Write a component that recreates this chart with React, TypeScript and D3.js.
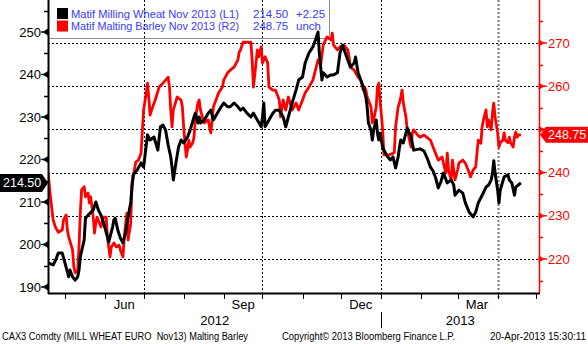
import React, { useEffect, useRef } from 'react';
import * as d3 from 'd3';

// Matif Milling Wheat Nov 2013 (left axis)
const WHEAT: [string, number][] = [
  ['2012-04-18', 195.7], ['2012-04-22', 195.2], ['2012-04-24', 196.4], ['2012-04-26', 198.0], ['2012-04-29', 198.0],
  ['2012-05-02', 194.7], ['2012-05-04', 192.4], ['2012-05-05', 194.0], ['2012-05-07', 192.4], ['2012-05-09', 191.6],
  ['2012-05-11', 192.4], ['2012-05-12', 194.0], ['2012-05-13', 197.1], ['2012-05-16', 201.1], ['2012-05-17', 206.2],
  ['2012-05-19', 206.9], ['2012-05-23', 208.1], ['2012-05-25', 210.0], ['2012-05-27', 208.1], ['2012-05-29', 206.9],
  ['2012-05-31', 205.1], ['2012-06-03', 201.8], ['2012-06-04', 200.6], ['2012-06-07', 204.1], ['2012-06-08', 205.8],
  ['2012-06-09', 206.2], ['2012-06-11', 203.4], ['2012-06-13', 201.5], ['2012-06-15', 200.4], ['2012-06-17', 202.7],
  ['2012-06-19', 206.5], ['2012-06-21', 209.8], ['2012-06-22', 213.5], ['2012-06-23', 216.4], ['2012-06-26', 217.5],
  ['2012-06-29', 219.2], ['2012-07-01', 218.2], ['2012-07-04', 225.8], ['2012-07-06', 224.6], ['2012-07-09', 225.3],
  ['2012-07-12', 222.2], ['2012-07-14', 227.7], ['2012-07-16', 228.1], ['2012-07-18', 226.9], ['2012-07-20', 223.4],
  ['2012-07-22', 220.6], ['2012-07-23', 218.2], ['2012-07-24', 215.2], ['2012-07-26', 219.2], ['2012-07-28', 222.9],
  ['2012-07-30', 224.6], ['2012-08-01', 223.9], ['2012-08-04', 225.3], ['2012-08-06', 226.9], ['2012-08-09', 230.0],
  ['2012-08-10', 230.9], ['2012-08-12', 228.6], ['2012-08-13', 230.0], ['2012-08-14', 228.6], ['2012-08-17', 229.3],
  ['2012-08-20', 230.9], ['2012-08-22', 231.6], ['2012-08-24', 229.3], ['2012-08-27', 230.9], ['2012-08-30', 232.4],
  ['2012-09-01', 233.3], ['2012-09-04', 232.4], ['2012-09-06', 232.4], ['2012-09-09', 233.3], ['2012-09-12', 232.4],
  ['2012-09-14', 231.6], ['2012-09-16', 232.1], ['2012-09-19', 230.9], ['2012-09-22', 230.0], ['2012-09-24', 230.9],
  ['2012-09-27', 229.3], ['2012-09-30', 227.7], ['2012-10-01', 230.0], ['2012-10-02', 233.3], ['2012-10-03', 227.7],
  ['2012-10-06', 229.3], ['2012-10-09', 230.9], ['2012-10-11', 231.6], ['2012-10-14', 231.6], ['2012-10-17', 230.0],
  ['2012-10-19', 227.7], ['2012-10-21', 230.0], ['2012-10-24', 233.3], ['2012-10-27', 236.4], ['2012-10-29', 238.7],
  ['2012-11-01', 239.4], ['2012-11-03', 242.7], ['2012-11-06', 245.1], ['2012-11-09', 246.5], ['2012-11-11', 248.1],
  ['2012-11-13', 250.0], ['2012-11-14', 245.1], ['2012-11-16', 238.7], ['2012-11-17', 240.4], ['2012-11-20', 239.4],
  ['2012-11-23', 239.9], ['2012-11-25', 239.9], ['2012-11-28', 240.4], ['2012-11-30', 245.1], ['2012-12-02', 246.9],
  ['2012-12-04', 245.1], ['2012-12-06', 243.4], ['2012-12-08', 241.8], ['2012-12-11', 242.7], ['2012-12-12', 244.1],
  ['2012-12-14', 240.4], ['2012-12-18', 237.1], ['2012-12-20', 234.7], ['2012-12-21', 232.4], ['2012-12-22', 228.6],
  ['2012-12-24', 226.9], ['2012-12-25', 224.6], ['2012-12-26', 226.9], ['2012-12-28', 229.3], ['2012-12-29', 226.2],
  ['2012-12-30', 224.6], ['2012-12-31', 226.2], ['2013-01-02', 222.9], ['2013-01-03', 222.2], ['2013-01-06', 220.6],
  ['2013-01-08', 219.9], ['2013-01-10', 220.6], ['2013-01-12', 218.0], ['2013-01-14', 220.6], ['2013-01-15', 222.9],
  ['2013-01-16', 224.6], ['2013-01-18', 223.9], ['2013-01-20', 226.2], ['2013-01-21', 227.4], ['2013-01-24', 225.3],
  ['2013-01-26', 222.2], ['2013-01-31', 222.5], ['2013-02-03', 222.0], ['2013-02-06', 219.9], ['2013-02-08', 218.2],
  ['2013-02-10', 217.3], ['2013-02-12', 215.7], ['2013-02-14', 213.3], ['2013-02-16', 214.7], ['2013-02-18', 216.8],
  ['2013-02-21', 214.5], ['2013-02-24', 215.2], ['2013-02-26', 214.0], ['2013-02-27', 211.6], ['2013-03-02', 212.8],
  ['2013-03-05', 212.1], ['2013-03-07', 209.8], ['2013-03-10', 207.6], ['2013-03-13', 206.5], ['2013-03-15', 207.6],
  ['2013-03-17', 209.8], ['2013-03-20', 211.6], ['2013-03-23', 213.5], ['2013-03-25', 214.0], ['2013-03-27', 215.2],
  ['2013-03-28', 216.8], ['2013-03-29', 219.7], ['2013-03-30', 216.8], ['2013-04-01', 212.8], ['2013-04-02', 209.8],
  ['2013-04-03', 212.8], ['2013-04-06', 215.9], ['2013-04-09', 216.4], ['2013-04-10', 215.2], ['2013-04-12', 214.5],
  ['2013-04-14', 211.6], ['2013-04-15', 213.5], ['2013-04-17', 214.0], ['2013-04-19', 214.5],
];

// Matif Malting Barley Nov 2013 (right axis)
const BARLEY: [string, number][] = [
  ['2012-04-18', 240.1], ['2012-04-20', 234.1], ['2012-04-22', 229.0], ['2012-04-24', 227.2], ['2012-04-26', 226.2],
  ['2012-04-29', 226.7], ['2012-04-30', 229.0], ['2012-05-02', 230.2], ['2012-05-03', 226.7], ['2012-05-04', 225.1],
  ['2012-05-07', 222.1], ['2012-05-08', 218.2], ['2012-05-09', 216.8], ['2012-05-11', 217.5], ['2012-05-12', 222.8],
  ['2012-05-13', 230.6], ['2012-05-14', 236.0], ['2012-05-16', 236.7], ['2012-05-17', 234.4], ['2012-05-19', 235.3],
  ['2012-05-20', 233.0], ['2012-05-21', 234.4], ['2012-05-23', 229.7], ['2012-05-24', 226.0], ['2012-05-25', 228.3],
  ['2012-05-26', 229.7], ['2012-05-29', 227.4], ['2012-05-31', 229.7], ['2012-06-02', 229.7], ['2012-06-03', 225.1],
  ['2012-06-05', 220.5], ['2012-06-06', 222.8], ['2012-06-08', 223.7], ['2012-06-10', 222.8], ['2012-06-12', 223.2],
  ['2012-06-13', 222.1], ['2012-06-15', 220.5], ['2012-06-16', 225.1], ['2012-06-18', 230.6], ['2012-06-19', 224.4],
  ['2012-06-21', 228.3], ['2012-06-22', 237.6], ['2012-06-25', 242.5], ['2012-06-27', 242.9], ['2012-06-29', 244.5],
  ['2012-07-01', 254.5], ['2012-07-03', 258.4], ['2012-07-04', 260.7], ['2012-07-05', 257.5], ['2012-07-06', 253.3],
  ['2012-07-08', 255.2], ['2012-07-10', 256.8], ['2012-07-13', 259.8], ['2012-07-16', 260.7], ['2012-07-18', 261.4],
  ['2012-07-20', 262.1], ['2012-07-21', 259.8], ['2012-07-22', 254.5], ['2012-07-23', 250.6], ['2012-07-24', 254.5],
  ['2012-07-27', 257.5], ['2012-07-30', 256.8], ['2012-07-31', 255.2], ['2012-08-01', 250.6], ['2012-08-03', 243.6],
  ['2012-08-04', 245.2], ['2012-08-05', 247.5], ['2012-08-06', 245.9], ['2012-08-08', 246.9], ['2012-08-09', 248.2],
  ['2012-08-10', 252.2], ['2012-08-12', 256.1], ['2012-08-13', 256.8], ['2012-08-14', 254.5], ['2012-08-16', 252.2],
  ['2012-08-17', 251.5], ['2012-08-20', 252.2], ['2012-08-21', 250.6], ['2012-08-22', 249.2], ['2012-08-23', 252.2],
  ['2012-08-24', 255.2], ['2012-08-26', 256.8], ['2012-08-28', 258.4], ['2012-08-31', 259.8], ['2012-09-01', 261.4],
  ['2012-09-04', 263.1], ['2012-09-06', 263.7], ['2012-09-09', 264.4], ['2012-09-12', 266.1], ['2012-09-13', 267.9],
  ['2012-09-14', 268.4], ['2012-09-16', 270.2], ['2012-09-19', 270.2], ['2012-09-22', 270.2], ['2012-09-23', 266.1],
  ['2012-09-24', 259.8], ['2012-09-26', 265.4], ['2012-09-27', 268.4], ['2012-09-28', 266.8], ['2012-09-30', 269.1],
  ['2012-10-01', 265.4], ['2012-10-03', 266.8], ['2012-10-05', 265.4], ['2012-10-06', 259.8], ['2012-10-09', 259.1],
  ['2012-10-11', 259.1], ['2012-10-14', 256.8], ['2012-10-15', 252.9], ['2012-10-17', 256.8], ['2012-10-19', 254.5],
  ['2012-10-21', 257.5], ['2012-10-24', 254.5], ['2012-10-27', 256.1], ['2012-10-29', 254.5], ['2012-11-01', 256.8],
  ['2012-11-03', 258.4], ['2012-11-06', 259.8], ['2012-11-09', 261.4], ['2012-11-11', 263.7], ['2012-11-13', 266.1],
  ['2012-11-15', 264.9], ['2012-11-17', 269.5], ['2012-11-20', 271.4], ['2012-11-23', 270.7], ['2012-11-24', 272.3],
  ['2012-11-25', 269.5], ['2012-11-28', 268.4], ['2012-11-30', 269.1], ['2012-12-03', 269.5], ['2012-12-06', 268.4],
  ['2012-12-07', 266.8], ['2012-12-08', 264.4], ['2012-12-11', 263.7], ['2012-12-14', 262.1], ['2012-12-16', 261.4],
  ['2012-12-18', 259.1], ['2012-12-19', 259.8], ['2012-12-20', 259.1], ['2012-12-21', 257.5], ['2012-12-24', 255.2],
  ['2012-12-25', 251.5], ['2012-12-26', 252.2], ['2012-12-28', 255.2], ['2012-12-29', 259.8], ['2012-12-30', 260.7],
  ['2012-12-31', 256.8], ['2013-01-02', 249.9], ['2013-01-03', 244.1], ['2013-01-07', 244.1], ['2013-01-11', 244.6],
  ['2013-01-12', 250.6], ['2013-01-14', 255.2], ['2013-01-15', 256.1], ['2013-01-16', 257.5], ['2013-01-17', 259.1],
  ['2013-01-18', 256.1], ['2013-01-20', 252.9], ['2013-01-21', 249.9], ['2013-01-24', 245.9], ['2013-01-25', 249.2],
  ['2013-01-26', 249.9], ['2013-01-29', 248.7], ['2013-01-31', 248.2], ['2013-02-03', 248.7], ['2013-02-06', 248.0],
  ['2013-02-08', 247.5], ['2013-02-11', 245.2], ['2013-02-14', 242.9], ['2013-02-17', 243.6], ['2013-02-18', 242.2],
  ['2013-02-20', 239.9], ['2013-02-21', 244.5], ['2013-02-22', 240.6], ['2013-02-24', 238.3], ['2013-02-25', 242.9],
  ['2013-02-26', 240.6], ['2013-02-27', 238.3], ['2013-03-01', 240.6], ['2013-03-02', 242.2], ['2013-03-05', 242.9],
  ['2013-03-07', 242.2], ['2013-03-10', 239.9], ['2013-03-11', 239.0], ['2013-03-13', 240.6], ['2013-03-15', 241.3],
  ['2013-03-16', 244.5], ['2013-03-17', 247.5], ['2013-03-19', 246.8], ['2013-03-20', 250.6], ['2013-03-21', 252.2],
  ['2013-03-23', 254.5], ['2013-03-24', 250.6], ['2013-03-25', 252.2], ['2013-03-27', 249.9], ['2013-03-28', 253.8],
  ['2013-03-29', 256.1], ['2013-03-30', 252.9], ['2013-04-01', 249.2], ['2013-04-02', 245.9], ['2013-04-03', 246.9],
  ['2013-04-05', 247.5], ['2013-04-06', 249.2], ['2013-04-07', 247.5], ['2013-04-09', 246.9], ['2013-04-10', 248.2],
  ['2013-04-11', 246.9], ['2013-04-13', 245.9], ['2013-04-14', 248.2], ['2013-04-15', 249.4], ['2013-04-16', 248.2],
  ['2013-04-17', 248.7], ['2013-04-19', 248.75],
];

const LEFT_TICKS = [190, 200, 210, 220, 230, 240, 250];
const LEFT_MINOR = [195, 205, 215, 225, 235, 245, 255];
const RIGHT_TICKS = [220, 230, 240, 250, 260, 270];
const RIGHT_MINOR = [215, 225, 235, 245, 255, 265, 275];
const MONTH_LABELS: [string, string][] = [
  ['2012-06-16', 'Jun'], ['2012-09-16', 'Sep'], ['2012-12-16', 'Dec'], ['2013-03-16', 'Mar'],
];
const QUARTER_LINES = ['2012-07-01', '2012-10-01', '2013-01-01'];
const LAST_QUARTER = '2013-04-01';
const YEARS = ['2012', '2013'];
const LEGEND = [
  { name: 'Matif Milling Wheat Nov 2013 (L1)', last: '214.50', chg: '+2.25', color: '#000000' },
  { name: 'Matif Malting Barley Nov 2013 (R2)', last: '248.75', chg: 'unch', color: '#ff0000' },
];
const FOOTER = [
  'CAX3 Comdty (MILL WHEAT EURO  Nov13) Malting Barley',
  'Copyright\u00a9 2013 Bloomberg Finance L.P.',
  '20-Apr-2013 15:30:11',
];

const FONT = '"Liberation Sans", Arial, sans-serif';

export default function App() {
  const ref = useRef<SVGSVGElement>(null);

  useEffect(() => {
    const width = 588,
      height = 344,
      left = 48,
      right = 539,
      top = 0,
      bottom = 293;

    const svg = d3.select(ref.current);
    svg.selectAll('*').remove();
    svg.attr('width', width).attr('height', height).style('font-family', FONT);

    const parse = d3.timeParse('%Y-%m-%d');
    const wheat = WHEAT.map(([d, v]) => ({ date: parse(d) as Date, value: v }));
    const barley = BARLEY.map(([d, v]) => ({ date: parse(d) as Date, value: v }));

    const x = d3
      .scaleTime()
      .domain([new Date(2012, 3, 18), new Date(2013, 4, 3)])
      .range([left, right]);
    const yL = d3.scaleLinear().domain([250, 190]).range([32, 287]);
    const yR = d3.scaleLinear().domain([270, 220]).range([43, 259]);

    const lastW = wheat[wheat.length - 1];
    const lastB = barley[barley.length - 1];
    const tw = yL(lastW.value);
    const tb = yR(lastB.value);

    svg.append('rect').attr('width', width).attr('height', height).attr('fill', '#fff');

    // legend box
    svg
      .append('path')
      .attr('d', `M48.5,-1 H329.5 V34 Q329.5,38.5 325,38.5 H48.5 Z`)
      .attr('fill', 'none')
      .attr('stroke', '#8a8a8a')
      .attr('stroke-width', 1);

    // horizontal grid (right axis)
    svg
      .append('g')
      .selectAll('line')
      .data(RIGHT_TICKS)
      .enter()
      .append('line')
      .attr('x1', left)
      .attr('x2', right)
      .attr('y1', d => Math.round(yR(d)) + 0.5)
      .attr('y2', d => Math.round(yR(d)) + 0.5)
      .attr('stroke', '#000')
      .attr('stroke-dasharray', '2,2');

    // vertical grid at quarters
    svg
      .append('g')
      .selectAll('line')
      .data(QUARTER_LINES)
      .enter()
      .append('line')
      .attr('x1', d => Math.round(x(parse(d) as Date)) + 0.5)
      .attr('x2', d => Math.round(x(parse(d) as Date)) + 0.5)
      .attr('y1', top)
      .attr('y2', bottom + 6)
      .attr('stroke', '#000')
      .attr('stroke-dasharray', '2,2');

    const lq = Math.round(x(parse(LAST_QUARTER) as Date)) + 0.5;
    svg
      .append('line')
      .attr('x1', lq)
      .attr('x2', lq)
      .attr('y1', top)
      .attr('y2', bottom + 6)
      .attr('stroke', '#7a7a7a')
      .attr('stroke-width', 2)
      .attr('stroke-dasharray', '2,2');

    // series
    svg
      .append('clipPath')
      .attr('id', 'plot-clip')
      .append('rect')
      .attr('x', left)
      .attr('y', top)
      .attr('width', right - left)
      .attr('height', bottom - top);

    const lineL = d3
      .line<{ date: Date; value: number }>()
      .x(d => x(d.date))
      .y(d => yL(d.value));
    const lineR = d3
      .line<{ date: Date; value: number }>()
      .x(d => x(d.date))
      .y(d => yR(d.value));

    const plot = svg.append('g').attr('clip-path', 'url(#plot-clip)');
    plot
      .append('path')
      .datum(barley)
      .attr('d', lineR)
      .attr('fill', 'none')
      .attr('stroke', '#ff0000')
      .attr('stroke-width', 2.8)
      .attr('stroke-linejoin', 'round');
    plot
      .append('path')
      .datum(wheat)
      .attr('d', lineL)
      .attr('fill', 'none')
      .attr('stroke', '#000')
      .attr('stroke-width', 3)
      .attr('stroke-linejoin', 'round');

    // x axis
    svg
      .append('line')
      .attr('x1', left)
      .attr('x2', right + 1)
      .attr('y1', bottom + 0.5)
      .attr('y2', bottom + 0.5)
      .attr('stroke', '#000')
      .attr('stroke-width', 2);

    svg
      .append('g')
      .selectAll('line')
      .data(d3.timeMonth.range(new Date(2012, 4, 1), new Date(2013, 4, 2)))
      .enter()
      .append('line')
      .attr('x1', d => Math.round(x(d)) + 0.5)
      .attr('x2', d => Math.round(x(d)) + 0.5)
      .attr('y1', bottom)
      .attr('y2', bottom + 6)
      .attr('stroke', '#000');

    svg
      .append('g')
      .selectAll('text')
      .data(MONTH_LABELS)
      .enter()
      .append('text')
      .attr('x', d => x(parse(d[0]) as Date))
      .attr('y', 309)
      .attr('text-anchor', 'middle')
      .attr('font-size', 13)
      .attr('fill', '#000')
      .text(d => d[1]);

    const jan = x(new Date(2013, 0, 1));
    svg
      .append('line')
      .attr('x1', Math.round(jan) + 0.5)
      .attr('x2', Math.round(jan) + 0.5)
      .attr('y1', 312)
      .attr('y2', 328)
      .attr('stroke', '#000');

    svg
      .append('g')
      .selectAll('text')
      .data(YEARS)
      .enter()
      .append('text')
      .attr('x', (d, i) => (i === 0 ? (left + jan) / 2 : (jan + right) / 2))
      .attr('y', 325)
      .attr('text-anchor', 'middle')
      .attr('font-size', 13)
      .attr('fill', '#000')
      .text(d => d);

    // left axis
    svg
      .append('line')
      .attr('x1', left + 0.5)
      .attr('x2', left + 0.5)
      .attr('y1', top)
      .attr('y2', bottom + 1)
      .attr('stroke', '#000')
      .attr('stroke-width', 2);

    svg
      .append('g')
      .selectAll('line')
      .data(LEFT_MINOR)
      .enter()
      .append('line')
      .attr('x1', left - 4)
      .attr('x2', left)
      .attr('y1', d => Math.round(yL(d)) + 0.5)
      .attr('y2', d => Math.round(yL(d)) + 0.5)
      .attr('stroke', '#000')
      .attr('stroke-width', 1.5);

    svg
      .append('g')
      .selectAll('path')
      .data(LEFT_TICKS)
      .enter()
      .append('path')
      .attr('d', d => {
        const y = yL(d);
        return `M${left - 7},${y} L${left - 4},${y - 0.6} L${left},${y - 3} L${left},${y + 3} L${left - 4},${y + 0.6} Z`;
      })
      .attr('fill', '#000')
      .attr('stroke', '#000')
      .attr('stroke-width', 0.8);

    svg
      .append('g')
      .selectAll('text')
      .data(LEFT_TICKS)
      .enter()
      .append('text')
      .attr('x', left - 7)
      .attr('y', d => yL(d) + 4.5)
      .attr('text-anchor', 'end')
      .attr('font-size', 13)
      .attr('fill', '#000')
      .text(d => d);

    // right axis
    svg
      .append('line')
      .attr('x1', right + 0.5)
      .attr('x2', right + 0.5)
      .attr('y1', top)
      .attr('y2', bottom)
      .attr('stroke', '#ff0000')
      .attr('stroke-width', 1.5);

    svg
      .append('g')
      .selectAll('line')
      .data(RIGHT_MINOR)
      .enter()
      .append('line')
      .attr('x1', right)
      .attr('x2', right + 4)
      .attr('y1', d => Math.round(yR(d)) + 0.5)
      .attr('y2', d => Math.round(yR(d)) + 0.5)
      .attr('stroke', '#ff0000')
      .attr('stroke-width', 1.5);

    svg
      .append('g')
      .selectAll('path')
      .data(RIGHT_TICKS)
      .enter()
      .append('path')
      .attr('d', d => {
        const y = yR(d);
        return `M${right + 8},${y} L${right + 4},${y - 0.6} L${right},${y - 3} L${right},${y + 3} L${right + 4},${y + 0.6} Z`;
      })
      .attr('fill', '#ff0000')
      .attr('stroke', '#ff0000')
      .attr('stroke-width', 0.8);

    // labels hidden under the last-value tag are not drawn
    svg
      .append('g')
      .selectAll('text')
      .data(RIGHT_TICKS.filter(d => Math.abs(yR(d) - tb) > 14))
      .enter()
      .append('text')
      .attr('x', right + 9)
      .attr('y', d => yR(d) + 4.5)
      .attr('font-size', 13)
      .attr('fill', '#ff0000')
      .text(d => d);

    // last value tags
    svg
      .append('path')
      .attr('d', `M0,${tw - 9} H42 L48,${tw} L42,${tw + 9} H0 Z`)
      .attr('fill', '#000');
    svg
      .append('text')
      .attr('x', 3)
      .attr('y', tw + 4.5)
      .attr('font-size', 12.5)
      .attr('fill', '#fff')
      .text(lastW.value.toFixed(2));

    svg
      .append('path')
      .attr('d', `M${right + 1},${tb} L${right + 7},${tb - 8} H588 V${tb + 8} H${right + 7} Z`)
      .attr('fill', '#ff0000');
    svg
      .append('text')
      .attr('x', right + 9)
      .attr('y', tb + 4.5)
      .attr('font-size', 12.5)
      .attr('fill', '#fff')
      .text(lastB.value.toFixed(2));

    // legend
    const leg = svg.append('g');
    LEGEND.forEach((s, i) => {
      const y = 8 + i * 12.5;
      leg.append('rect').attr('x', 57).attr('y', y).attr('width', 11).attr('height', 11).attr('fill', s.color);
      leg
        .append('text')
        .attr('x', 71)
        .attr('y', y + 9.5)
        .attr('font-size', 11.5)
        .attr('fill', '#3a3aff')
        .attr('textLength', 168)
        .attr('lengthAdjust', 'spacingAndGlyphs')
        .text(s.name);
      leg
        .append('text')
        .attr('x', 253)
        .attr('y', y + 9.5)
        .attr('font-size', 11.5)
        .attr('fill', '#3a3aff')
        .text(s.last);
      leg
        .append('text')
        .attr('x', 296)
        .attr('y', y + 9.5)
        .attr('font-size', 11.5)
        .attr('fill', '#3a3aff')
        .text(s.chg);
    });

    // footer
    const fx = [2, 282, 490];
    const fl = [246, 173, 96];
    svg
      .append('g')
      .selectAll('text')
      .data(FOOTER)
      .enter()
      .append('text')
      .attr('x', (d, i) => fx[i])
      .attr('y', 340)
      .attr('font-size', 10)
      .attr('fill', '#000')
      .attr('textLength', (d, i) => fl[i])
      .attr('lengthAdjust', 'spacingAndGlyphs')
      .style('white-space', 'pre')
      .text(d => d);
  }, []);

  return <svg ref={ref} style={{ position: 'absolute', left: 0, top: 0, display: 'block' }} />;
}
